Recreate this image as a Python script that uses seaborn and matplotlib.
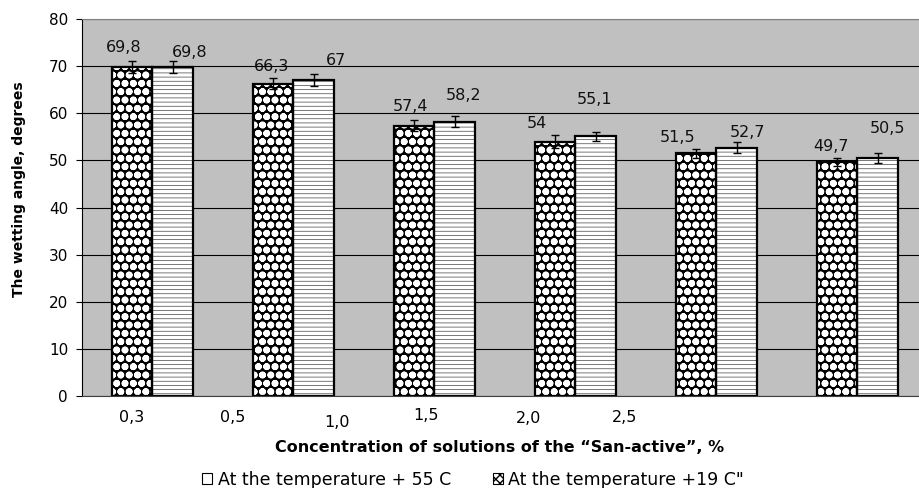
import matplotlib
matplotlib.use('Agg')
import matplotlib.pyplot as plt
from matplotlib.patches import Patch, Rectangle
import seaborn as sns
import pandas as pd

# data
concentrations = ['0,3', '0,5', '1,0', '1,5', '2,0', '2,5']
series_names = ['At the temperature + 55 C', 'At the temperature +19 C"']
angle_55 = [69.8, 66.3, 57.4, 54.0, 51.5, 49.7]
angle_19 = [69.8, 67.0, 58.2, 55.1, 52.7, 50.5]
err_55 = [1.3, 1.1, 1.1, 1.3, 1.0, 0.9]
err_19 = [1.3, 1.3, 1.2, 0.9, 1.1, 1.1]

# layout: label offsets (pixels) from bar tops, shifted tick label positions
label_off_55 = [(-8, 20), (-1, 17), (-4, 19), (-18, 18), (-18, 16), (-6, 15)]
label_off_19 = [(17, 15), (22, 20), (9, 26), (-1, 37), (11, 15), (10, 30)]
tick_pos = [-0.15, 0.57, 1.31, 1.94, 2.67, 3.35]
tick_pad = [10, 10, 14, 9, 11, 10]

df = pd.DataFrame({
    'conc': concentrations * 2,
    'angle': angle_55 + angle_19,
    'series': [series_names[0]] * 6 + [series_names[1]] * 6,
})

plt.rcParams['font.family'] = ['DejaVu Sans']
fig = plt.figure(figsize=(9.2, 4.88), dpi=100)
ax = fig.add_axes([82 / 920, 1 - 396 / 488, 846 / 920, 377 / 488])
ax.set_facecolor('#c0c0c0')

sns.barplot(data=df, x='conc', y='angle', hue='series', order=concentrations,
            hue_order=series_names, width=0.58, gap=0, errorbar=None,
            palette=['white', 'white'], saturation=1, edgecolor='black',
            linewidth=1.5, legend=False, ax=ax)


def outline(bar):
    ax.add_patch(Rectangle(bar.get_xy(), bar.get_width(), bar.get_height(),
                           fill=False, edgecolor='black', lw=1.6,
                           zorder=bar.get_zorder() + 0.1))


# left series: white dots on black
for bar in ax.containers[0]:
    bar.set_facecolor('black')
    bar.set_edgecolor('white')
    bar.set_linewidth(0)
    bar.set_hatch('oo')
    if hasattr(bar, 'set_hatch_linewidth'):
        bar.set_hatch_linewidth(2.5)
    outline(bar)
# right series: fine grey lines on white
for bar in ax.containers[1]:
    bar.set_edgecolor('#444444')
    bar.set_linewidth(0)
    bar.set_hatch('----')
    if hasattr(bar, 'set_hatch_linewidth'):
        bar.set_hatch_linewidth(0.5)
    outline(bar)

for cont, vals, errs, offs in [(ax.containers[0], angle_55, err_55, label_off_55),
                               (ax.containers[1], angle_19, err_19, label_off_19)]:
    xs = [b.get_x() + b.get_width() / 2 for b in cont]
    ax.errorbar(xs, vals, yerr=errs, fmt='none', ecolor='black', elinewidth=1,
                capsize=3, capthick=1, zorder=5)
    for x, v, (dx, dy) in zip(xs, vals, offs):
        ax.annotate(f'{v:g}'.replace('.', ','), (x, v), xytext=(dx, dy),
                    textcoords='offset pixels', ha='center', va='center',
                    fontsize=11.5, color='#111111')

ax.set_xlim(-0.5, 5.5)
ax.set_ylim(0, 80)
ax.set_yticks(range(0, 81, 10))
ax.yaxis.grid(True, color='black', lw=0.8)
ax.set_axisbelow(True)
ax.tick_params(axis='y', length=4, width=0.8, labelsize=11, pad=6)

ax.set_xticks(tick_pos, labels=concentrations)
ax.tick_params(axis='x', length=0, labelsize=11.5)
for tick, p in zip(ax.xaxis.get_major_ticks(), tick_pad):
    tick.set_pad(p)

ax.spines['top'].set_color('#808080')
ax.spines['left'].set_color('black')
ax.spines['bottom'].set_color('#404040')
ax.spines['right'].set_visible(False)

ax.set_xlabel('Concentration of solutions of the \u201cSan-active\u201d, %',
              fontweight='bold', fontsize=11.5)
ax.xaxis.set_label_coords((500 - 82) / 846, -(447 - 396) / 377)
ax.xaxis.label.set_va('center')
ax.set_ylabel('The wetting angle, degrees', fontweight='bold', fontsize=10)
ax.yaxis.set_label_coords((19 - 82) / 846, (396 - 189) / 377)
ax.yaxis.label.set_va('center')

handles = [Patch(facecolor='white', edgecolor='black', lw=0.8),
           Patch(facecolor='white', edgecolor='black', lw=0.8, hatch='xxxx')]
fig.legend(handles, series_names, loc='center', bbox_to_anchor=(473 / 920, 1 - 480 / 488),
           ncol=2, frameon=False, fontsize=12.5, handlelength=0.6, handleheight=0.6,
           handletextpad=0.3, columnspacing=2.4)

fig.savefig('out.png', dpi=100)
plt.close(fig)
